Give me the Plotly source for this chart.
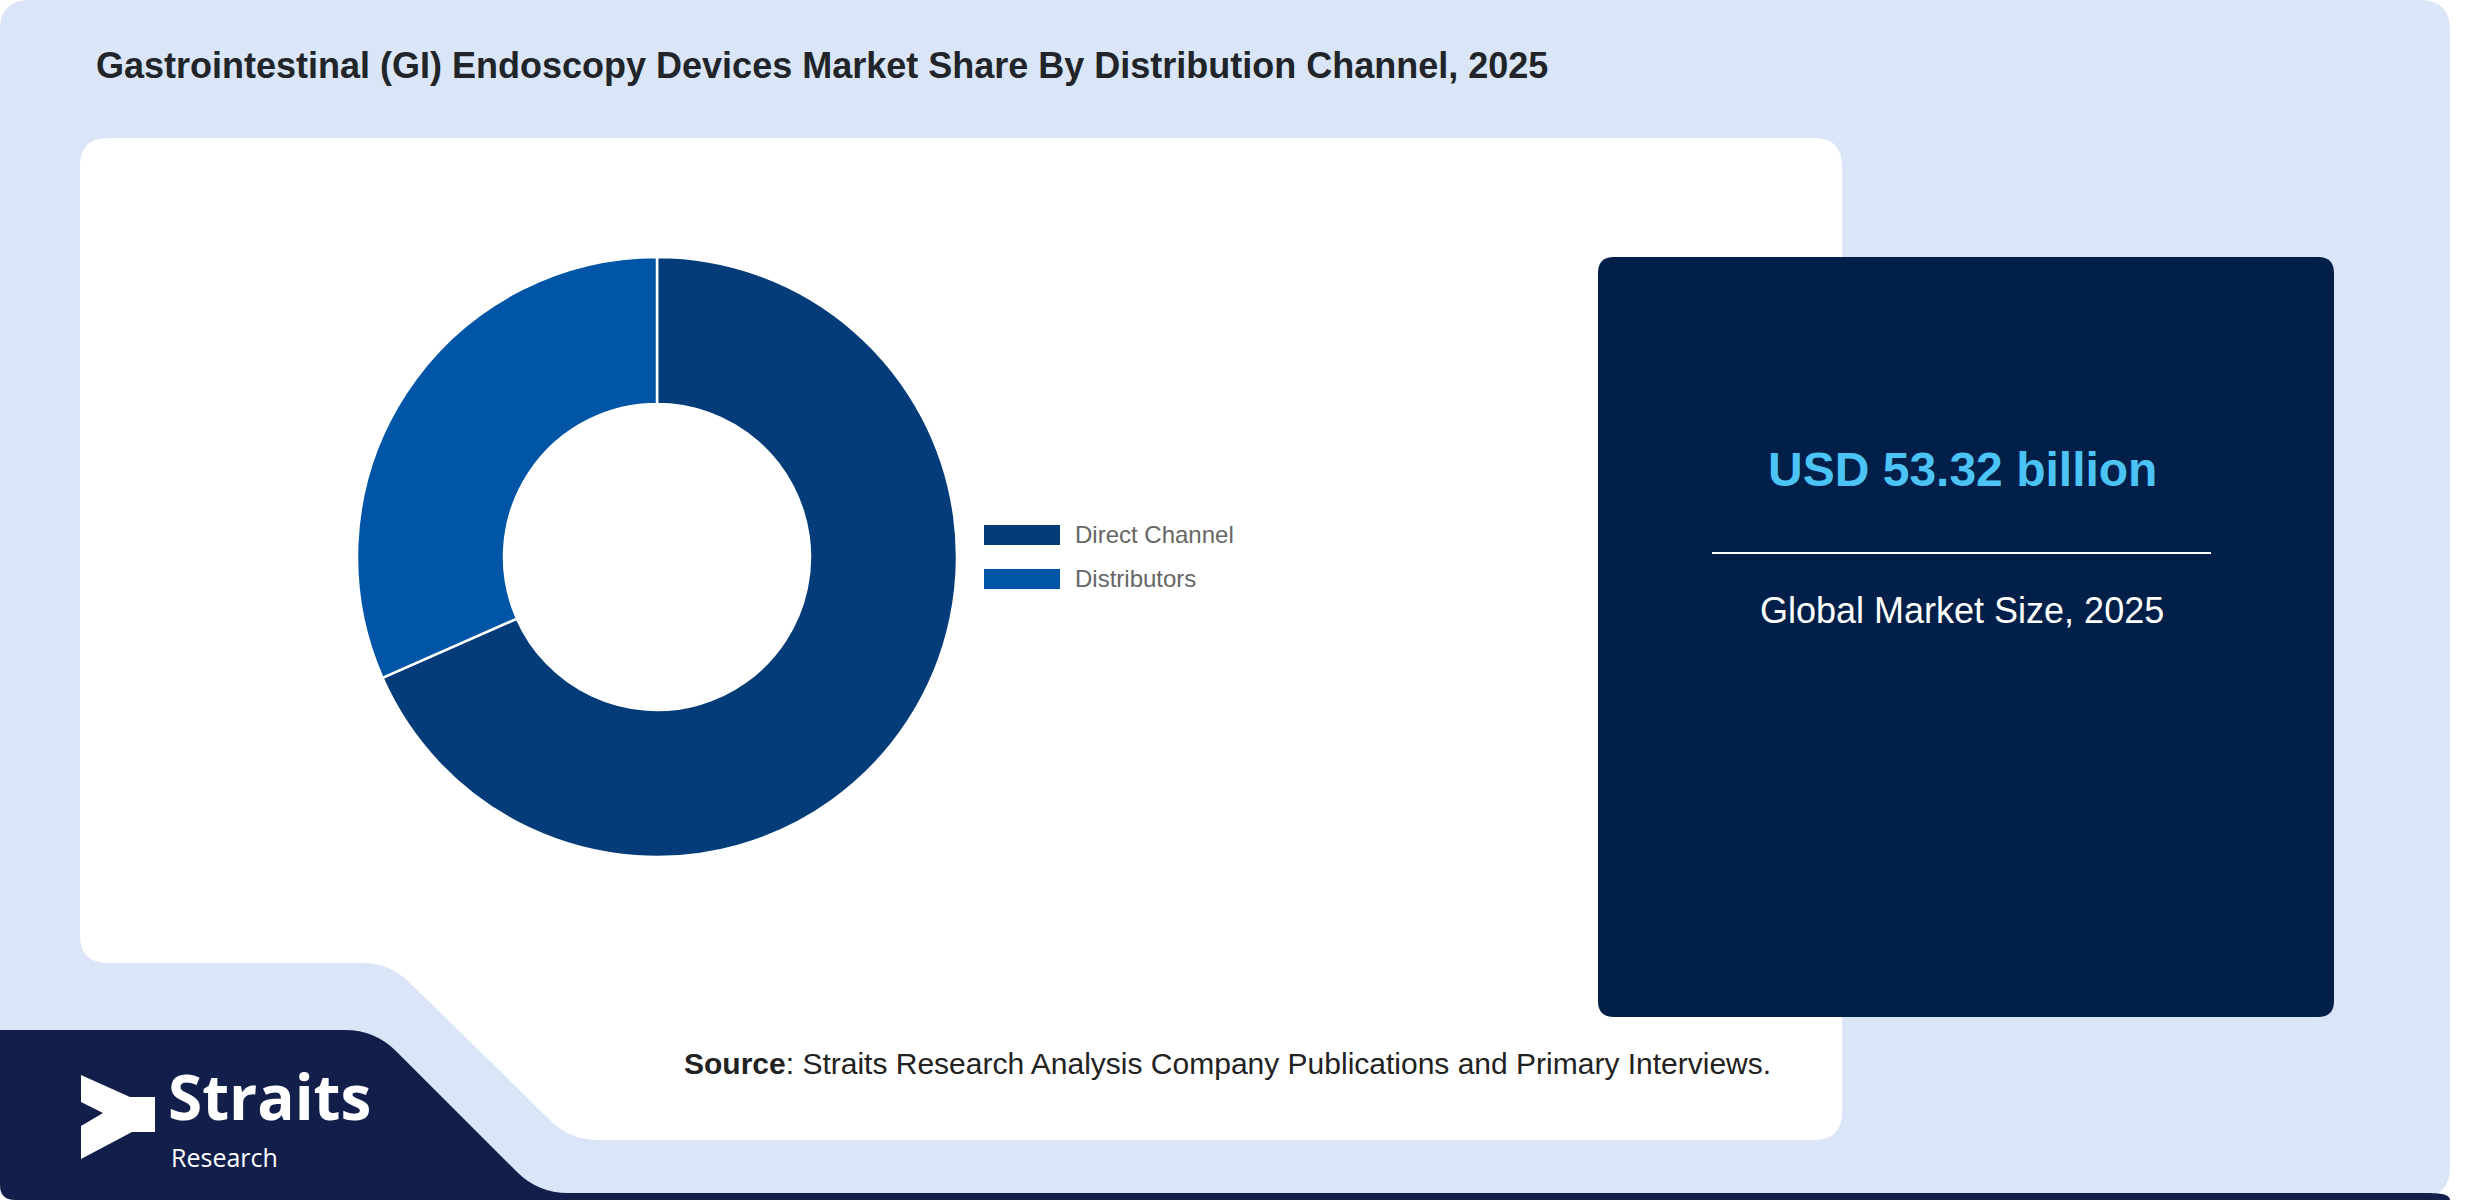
import plotly.graph_objects as go

W, H = 2480, 1200

# data
channels = ["Direct Channel", "Distributors"]
shares = [68.4, 31.6]
channel_colors = ["#033c78", "#0055a6"]
market_value = "USD 53.32 billion"
market_label = "Global Market Size, 2025"
title_text = "Gastrointestinal (GI) Endoscopy Devices Market Share By Distribution Channel, 2025"
source_text = "<b>Source</b>: Straits Research Analysis Company Publications and Primary Interviews."


def pt(x, y):
    # pixel -> paper coords
    return f"{x / W:.5f},{1 - y / H:.5f}"


def rounded_rect(x0, y0, x1, y1, r):
    return (f"M {pt(x0 + r, y0)} L {pt(x1 - r, y0)} Q {pt(x1, y0)} {pt(x1, y0 + r)} "
            f"L {pt(x1, y1 - r)} Q {pt(x1, y1)} {pt(x1 - r, y1)} "
            f"L {pt(x0 + r, y1)} Q {pt(x0, y1)} {pt(x0, y1 - r)} "
            f"L {pt(x0, y0 + r)} Q {pt(x0, y0)} {pt(x0 + r, y0)} Z")


def shape(path, color):
    return dict(type="path", path=path, xref="paper", yref="paper",
                fillcolor=color, line=dict(width=0), layer="below")


shapes = []

# light blue card
shapes.append(shape(rounded_rect(0, 0, 2450, 1197, 30), "#dae6f8"))

# white panel with the cut corner bottom left
r = 28
d = r * 0.7071
bot = 1140
white_panel = (f"M {pt(80 + r, 138)} L {pt(1842 - r, 138)} Q {pt(1842, 138)} {pt(1842, 138 + r)} "
               f"L {pt(1842, bot - r)} Q {pt(1842, bot)} {pt(1842 - r, bot)} "
               f"L {pt(570 + r, bot)} Q {pt(570, bot)} {pt(570 - d, bot - d)} "
               f"L {pt(390 + d, 963 + d)} Q {pt(390, 963)} {pt(390 - r, 963)} "
               f"L {pt(80 + r, 963)} Q {pt(80, 963)} {pt(80, 963 - r)} "
               f"L {pt(80, 138 + r)} Q {pt(80, 138)} {pt(80 + r, 138)} Z")
shapes.append(shape(white_panel, "#ffffff"))

# navy logo block bottom left
r = 30
d = r * 0.7071
navy_block = (f"M {pt(0, 1030)} L {pt(375 - r, 1030)} Q {pt(375, 1030)} {pt(375 + d, 1030 + d)} "
              f"L {pt(538 - d, 1193 - d)} Q {pt(538, 1193)} {pt(538 + r, 1193)} "
              f"L {pt(2430, 1193)} Q {pt(2450, 1193)} {pt(2450, 1200)} "
              f"L {pt(15, 1200)} Q {pt(0, 1200)} {pt(0, 1185)} Z")
shapes.append(shape(navy_block, "#131f4b"))

# logo chevron
chevron = [(81, 1075), (130, 1097), (155, 1097), (155, 1132), (132, 1132), (81, 1159),
           (81, 1126), (103, 1113), (81, 1102)]
chev_path = "M " + " L ".join(pt(x, y) for x, y in chevron) + " Z"
shapes.append(shape(chev_path, "#ffffff"))

# dark market size box
shapes.append(shape(rounded_rect(1598, 257, 2334, 1017, 16), "#011f48"))
shapes.append(dict(type="line", xref="paper", yref="paper",
                   x0=1712 / W, x1=2211 / W, y0=1 - 553 / H, y1=1 - 553 / H,
                   line=dict(color="#ffffff", width=2)))

# legend swatches drawn by hand (wide bars)
for i, (lab, col) in enumerate(zip(channels, channel_colors)):
    y0 = 525 + i * 44
    shapes.append(dict(type="rect", xref="paper", yref="paper",
                       x0=984 / W, x1=1060 / W, y0=1 - y0 / H, y1=1 - (y0 + 20) / H,
                       fillcolor=col, line=dict(width=0)))

annotations = []


def text(x, y, s, size, color, family="Liberation Sans, Arial", xanchor="left"):
    annotations.append(dict(x=x / W, y=1 - y / H, xref="paper", yref="paper", text=s,
                            showarrow=False, xanchor=xanchor, yanchor="middle",
                            font=dict(size=size, color=color, family=family)))


text(94, 65, f"<b>{title_text}</b>", 36, "#212529")
for i, lab in enumerate(channels):
    text(1073, 534 + i * 44, lab, 24, "#666666")
text(1962, 470, f"<b>{market_value}</b>", 48, "#4cc3f5", xanchor="center")
text(1962, 610, market_label, 36, "#ffffff", xanchor="center")
text(682, 1063, source_text, 30, "#222222")

# logo words
text(166, 1096, "<b>Straits</b>", 62, "#ffffff", family="Open Sans")
text(169, 1157, "Research", 25, "#ffffff", family="Open Sans")

# donut
cx, cy, rad = 657, 557, 300
fig = go.Figure(go.Pie(
    labels=channels,
    values=shares,
    hole=0.51,
    sort=False,
    direction="clockwise",
    rotation=0,
    textinfo="none",
    hoverinfo="label+percent",
    showlegend=False,
    marker=dict(colors=channel_colors, line=dict(color="#ffffff", width=2.5)),
    domain=dict(x=[(cx - rad) / W, (cx + rad) / W],
                y=[1 - (cy + rad) / H, 1 - (cy - rad) / H]),
))

fig.update_layout(
    width=W, height=H,
    margin=dict(l=0, r=0, t=0, b=0),
    paper_bgcolor="#ffffff",
    plot_bgcolor="#ffffff",
    shapes=shapes,
    annotations=annotations,
    showlegend=False,
)

fig.write_html("out.html", config={"displayModeBar": False},
               post_script="document.body.style.margin='0px';")
